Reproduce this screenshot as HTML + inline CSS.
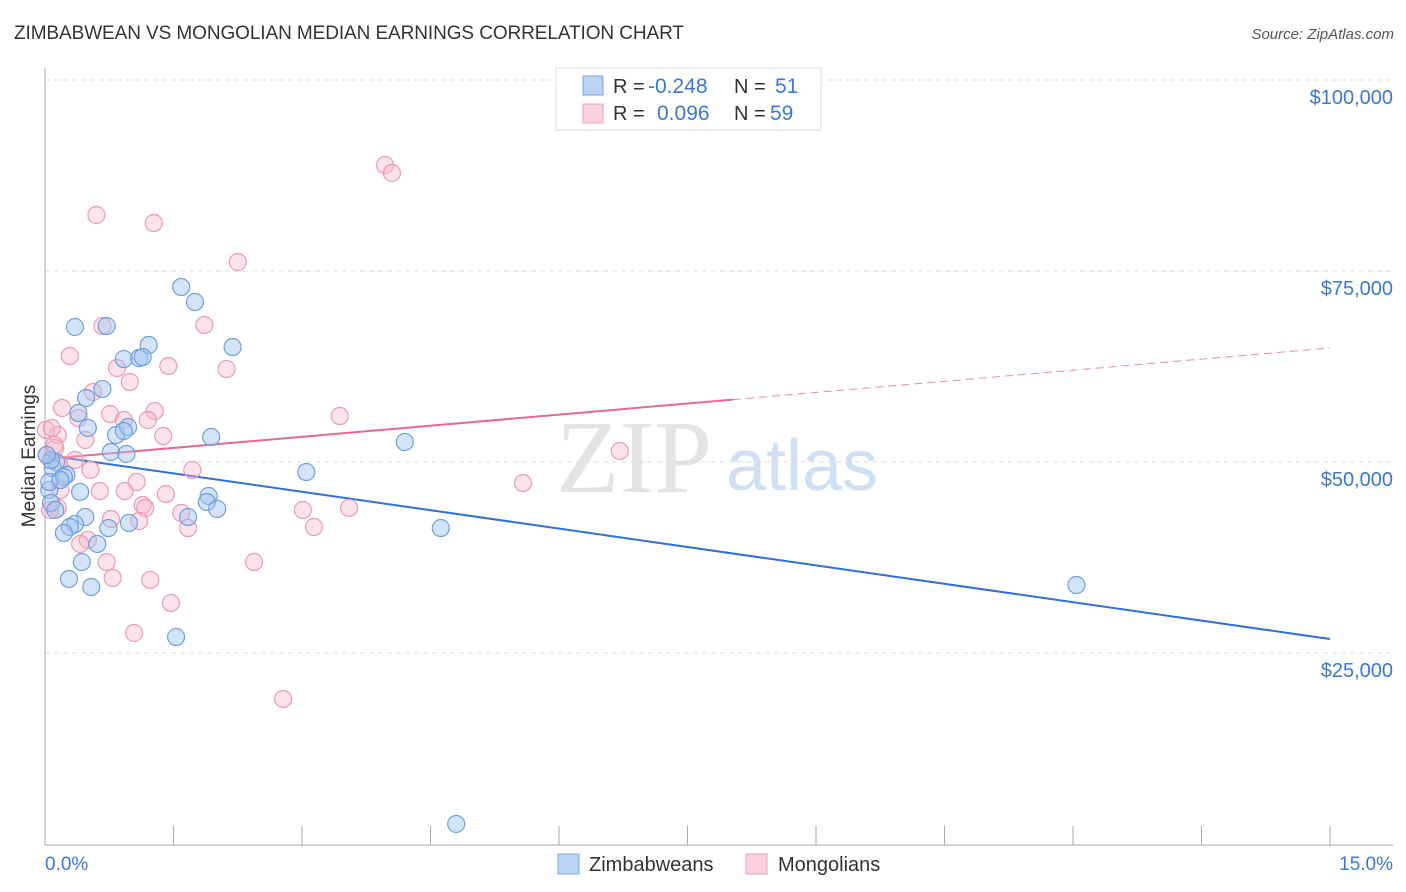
<!DOCTYPE html>
<html><head><meta charset="utf-8"><style>
body{margin:0;background:#fff;font-family:"Liberation Sans",sans-serif}
svg{display:block}
</style></head><body>
<svg width="1406" height="892" viewBox="0 0 1406 892">
<text x="14" y="39" font-size="19" fill="#333" textLength="670">ZIMBABWEAN VS MONGOLIAN MEDIAN EARNINGS CORRELATION CHART</text>
<text x="1394" y="39" font-size="15" fill="#555" font-style="italic" text-anchor="end">Source: ZipAtlas.com</text>
<g>
<text x="634" y="492" font-size="104" font-family="Liberation Serif,serif" fill="#e4e4e4" text-anchor="middle">ZIP</text>
<text x="802" y="490" font-size="72" fill="#cfe0f5" text-anchor="middle">atlas</text>
</g>
<g id="grid"></g>
<g id="axes"></g>
<g id="trend"></g>
<g id="pts"></g>
<text x="35" y="456" font-size="19" fill="#333" text-anchor="middle" transform="rotate(-90 35 456)">Median Earnings</text>
<text x="45" y="870" font-size="19" fill="#3a78d4">0.0%</text>
<text x="1393" y="870" font-size="19" fill="#3a78d4" text-anchor="end">15.0%</text>
<g>
<rect x="556" y="68" width="265" height="62" fill="#fff" stroke="#ddd"/>
<rect x="583" y="76" width="20" height="19" fill="#bcd4f4" stroke="#7aa6e2"/>
<rect x="583" y="104" width="20" height="19" fill="#fcd0dc" stroke="#eea2ba"/>
<text x="613" y="93" font-size="20" fill="#333">R =</text>
<text x="648" y="93" font-size="21" fill="#3a78d4">-0.248</text>
<text x="734" y="93" font-size="20" fill="#333">N =</text>
<text x="775" y="93" font-size="21" fill="#3a78d4">51</text>
<text x="613" y="120" font-size="20" fill="#333">R =</text>
<text x="657" y="120" font-size="21" fill="#3a78d4">0.096</text>
<text x="734" y="120" font-size="20" fill="#333">N =</text>
<text x="770" y="120" font-size="21" fill="#3a78d4">59</text>
</g>
<g>
<rect x="558" y="854" width="21" height="20" fill="#bcd4f4" stroke="#7aa6e2"/>
<text x="589" y="871" font-size="20" fill="#333">Zimbabweans</text>
<rect x="746" y="854" width="21" height="20" fill="#fcd0dc" stroke="#eea2ba"/>
<text x="778" y="871" font-size="20" fill="#333">Mongolians</text>
</g>
</svg>
<script>
const yTicks=[25000,50000,75000,100000];
const yTickLabels=["$25,000","$50,000","$75,000","$100,000"];
const xTicks=[0,1.5,3,4.5,6,7.5,9,10.5,12,13.5,15];
const blueX=[0.35,0.72,1.59,1.75,1.21,0.92,1.10,1.14,2.19,0.67,0.48,0.39,0.50,0.83,0.97,0.92,1.94,4.20,0.77,0.95,0.13,0.09,0.25,0.22,0.05,0.41,0.07,0.12,1.91,1.89,2.01,3.05,0.47,0.35,0.29,0.22,0.74,0.98,1.67,0.61,0.43,0.28,0.54,1.53,4.62,12.04,4.80,0.05,0.18,0.07,0.02];
const blueY=[67670,67800,72900,70940,65310,63480,63610,63740,65050,59560,58380,56410,54450,53530,54580,54060,53270,52620,51310,51050,50000,49210,48300,48040,46340,46080,44630,43720,45550,44760,43850,48690,42800,41880,41490,40710,41360,42020,42800,39270,36910,34690,33640,27090,41360,33900,2620,47380,47640,50260,50920];
const pinkX=[0.60,1.27,3.97,4.05,2.25,0.67,1.86,0.29,1.44,0.84,2.12,0.99,0.56,0.20,1.28,0.76,0.92,1.20,0.39,3.44,0.15,0.47,1.38,0.12,0.35,0.53,1.72,0.16,0.18,0.64,0.93,1.41,1.07,0.02,0.06,1.14,1.17,1.59,0.77,3.01,0.50,0.41,1.10,1.67,3.14,3.55,5.58,6.71,0.72,2.44,0.79,1.23,1.47,1.04,2.78,0.15,0.11,0.01,0.08];
const pinkY=[82330,81280,88870,87830,76180,67800,67930,63870,62570,62300,62170,60470,59160,57070,56670,56280,55500,55500,55760,56020,53530,52880,53400,51830,50260,48960,48960,49740,46340,46200,46200,45810,47380,50920,43720,44370,43980,43330,42540,43720,39790,39270,42280,41360,41490,43980,47250,51440,36910,36910,34820,34560,31550,27620,18980,43980,52230,54190,54450];
const blueTrend=[50920,26830];
const pinkTrend=[50390,64920];
const pinkSolidEnd=8.03;
const NS="http://www.w3.org/2000/svg";
const X=p=>45+p*(1330-45)/15;
const Y=v=>844-v*191/25000;
function mk(parent,tag,attrs){const e=document.createElementNS(NS,tag);for(const k in attrs)e.setAttribute(k,attrs[k]);document.getElementById(parent).appendChild(e);return e;}
yTicks.forEach((t,i)=>{
  const l=mk('grid','line',{x1:45,x2:1393,y1:Y(t),y2:Y(t),stroke:'#ddd','stroke-dasharray':'5,4'});
  
  
  const tx=mk('grid','text',{x:1393,y:Y(t)+24,'font-size':20,fill:'#3a78d4','text-anchor':'end'});
  tx.textContent=yTickLabels[i];
  
  
});
mk('axes','line',{x1:45,x2:45,y1:68,y2:845,stroke:'#aaa'});
mk('axes','line',{x1:45,x2:1393,y1:845,y2:845,stroke:'#aaa'});
xTicks.forEach(t=>{
  const l=mk('axes','line',{x1:X(t),x2:X(t),y1:826,y2:845,stroke:'#aaa'});
  
  
});
const pv=p=>pinkTrend[0]+(pinkTrend[1]-pinkTrend[0])*p/15;
let t1=mk('trend','line',{x1:X(0),y1:Y(blueTrend[0]),x2:X(15),y2:Y(blueTrend[1]),stroke:'#2f6fd8','stroke-width':2});


let t2=mk('trend','line',{x1:X(0),y1:Y(pv(0)),x2:X(pinkSolidEnd),y2:Y(pv(pinkSolidEnd)),stroke:'#e66a92','stroke-width':2});


let t3=mk('trend','line',{x1:X(pinkSolidEnd),y1:Y(pv(pinkSolidEnd)),x2:X(15),y2:Y(pv(15)),stroke:'#e88aa8','stroke-width':1,'stroke-dasharray':'8,5'});


pinkX.forEach((x,i)=>{
  const c=mk('pts','circle',{cx:X(x),cy:Y(pinkY[i]),r:8.5,fill:'rgba(248,182,202,0.4)',stroke:'#eb9ab5','stroke-width':1.2});
  
  
});
blueX.forEach((x,i)=>{
  const c=mk('pts','circle',{cx:X(x),cy:Y(blueY[i]),r:8.5,fill:'rgba(160,196,240,0.45)',stroke:'#6f9fe0','stroke-width':1.2});
  
  
});
</script>
</body></html>
